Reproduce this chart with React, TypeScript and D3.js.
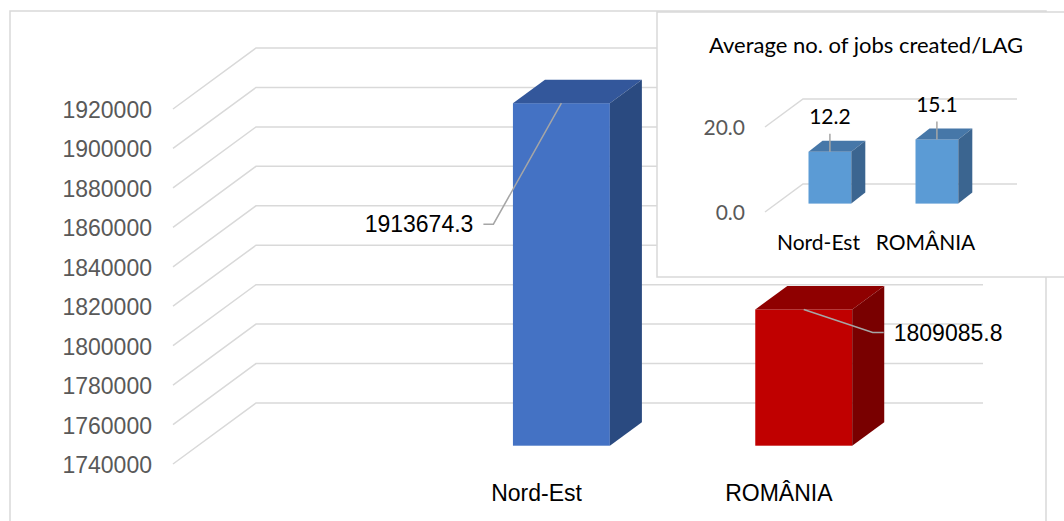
import * as d3 from "d3";

// main chart data (first category is an empty slot, as in the source workbook)
const categories = ["", "Nord-Est", "ROMÂNIA"];
const values: (number | null)[] = [null, 1913674.3, 1809085.8];
const yTicks = [1740000, 1760000, 1780000, 1800000, 1820000, 1840000, 1860000, 1880000, 1900000, 1920000];
const barColors = [null, { front: "#4472C4", top: "#33579B", side: "#2A4A80" }, { front: "#C00000", top: "#8F0000", side: "#790000" }];

// inset chart data
const insetTitle = "Average no. of jobs created/LAG";
const insetCategories = ["Nord-Est", "ROMÂNIA"];
const insetValues = [12.2, 15.1];
const insetTicks = [0, 20];

const W = 1064;
const H = 521;

type Box = { x: number; yTop: number; yBase: number; w: number; dx: number; dy: number };

function Bar3D({ b, c }: { b: Box; c: { front: string; top: string; side: string } }) {
  const { x, yTop, yBase, w, dx, dy } = b;
  return (
    <g>
      <rect x={x} y={yTop} width={w} height={yBase - yTop} fill={c.front} />
      <polygon points={`${x},${yTop} ${x + w},${yTop} ${x + w + dx},${yTop + dy} ${x + dx},${yTop + dy}`} fill={c.top} />
      <polygon points={`${x + w},${yTop} ${x + w + dx},${yTop + dy} ${x + w + dx},${yBase + dy} ${x + w},${yBase}`} fill={c.side} />
    </g>
  );
}

export default function App() {
  // ---- main chart ----
  const x = d3.scaleBand<string>().domain(categories).range([173, 900]).paddingInner(0.6).paddingOuter(0.3);
  const y = d3.scaleLinear().domain([1740000, 1920000]).range([464, 109]);
  const depth = [83, -61]; // front -> back wall
  const f0 = 0.3, f1 = 0.686; // bar sits in the middle of the depth
  const bw = x.bandwidth();

  const bars = values.map((v, i) => {
    if (v == null) return null;
    const bx = x(categories[i])! + depth[0] * f0;
    const yTop = y(v) + depth[1] * f0;
    const yBase = y(1740000) + depth[1] * f0;
    return { x: bx, yTop, yBase, w: bw, dx: depth[0] * (f1 - f0), dy: depth[1] * (f1 - f0) };
  });

  // label placement relative to the bar's top-centre (manual, as in the source)
  const labelOffsets: ([number, number] | null)[] = [null, [-88, 121], [90, 24]];

  // ---- inset chart ----
  const xi = d3.scaleBand<string>().domain(insetCategories).range([765, 979]).paddingInner(0.6).paddingOuter(0.3);
  const yi = d3.scaleLinear().domain([0, 20]).range([212, 127]);
  const di = [38, -28];
  const ibw = xi.bandwidth();
  const fmt1 = d3.format(".1f");

  return (
    <div style={{ position: "absolute", left: 0, top: 0, width: W, height: H, background: "#fff" }}>
      <svg width={W} height={H} style={{ display: "block" }}>
        <rect x={10} y={11} width={1036} height={530} fill="#fff" stroke="#D9D9D9" strokeWidth={1.5} />

        {/* gridlines: floor-side diagonal + back wall */}
        {yTicks.map((t) => (
          <polyline
            key={t}
            points={`${173},${y(t)} ${173 + depth[0]},${y(t) + depth[1]} ${900 + depth[0]},${y(t) + depth[1]}`}
            fill="none"
            stroke="#D9D9D9"
            strokeWidth={1.5}
          />
        ))}
        {yTicks.map((t) => (
          <text key={t} x={152} y={y(t) + 1} dy="0.35em" textAnchor="end" fontFamily="'Liberation Sans', Arial, sans-serif" fontSize={23} fill="#595959">
            {t}
          </text>
        ))}

        {bars.map((b, i) => (b ? <Bar3D key={i} b={b} c={barColors[i]!} /> : null))}

        {/* data labels with leader lines */}
        {bars.map((b, i) => {
          if (!b) return null;
          const ax = b.x + b.w / 2;
          const ay = b.yTop;
          const [ox, oy] = labelOffsets[i]!;
          const left = ox < 0;
          const lx = ax + ox;
          const ly = ay + oy;
          const pts = left
            ? `${lx + 10},${ly} ${lx + 20},${ly} ${ax},${ay}`
            : `${ax},${ay} ${lx - 21},${ly - 1} ${lx - 10},${ly - 1}`;
          return (
            <g key={i}>
              <polyline points={pts} fill="none" stroke="#A6A6A6" strokeWidth={1.5} />
              <text x={lx} y={ly} dy="0.35em" textAnchor={left ? "end" : "start"} fontFamily="'Liberation Sans', Arial, sans-serif" fontSize={23} fill="#000">
                {values[i]!.toFixed(1)}
              </text>
            </g>
          );
        })}

        {categories.map((c, i) =>
          c ? (
            <text key={c} x={x(c)! + bw / 2} y={501} textAnchor="middle" fontFamily="'Liberation Sans', Arial, sans-serif" fontSize={23} fill="#000">
              {c}
            </text>
          ) : null
        )}

        {/* inset chart */}
        <g>
          <rect x={657} y={12} width={420} height={265} fill="#fff" stroke="#D9D9D9" strokeWidth={1.5} />
          <text x={866} y={53} textAnchor="middle" fontFamily="Lato, 'Open Sans', sans-serif" fontSize={22} fill="#000">
            {insetTitle}
          </text>
          {insetTicks.map((t) => (
            <polyline
              key={t}
              points={`${765},${yi(t)} ${765 + di[0]},${yi(t) + di[1]} ${979 + di[0]},${yi(t) + di[1]}`}
              fill="none"
              stroke="#D9D9D9"
              strokeWidth={1.5}
            />
          ))}
          {insetTicks.map((t) => (
            <text key={t} x={745} y={yi(t) + 1} dy="0.35em" textAnchor="end" fontFamily="Lato, 'Open Sans', sans-serif" fontSize={21} fill="#595959">
              {fmt1(t)}
            </text>
          ))}
          {insetValues.map((v, i) => {
            const bx = xi(insetCategories[i])! + di[0] * 0.3;
            const yTop = yi(v) + di[1] * 0.3;
            const yBase = yi(0) + di[1] * 0.3;
            const b = { x: bx, yTop, yBase, w: ibw, dx: 14, dy: -11 };
            const cx = bx + ibw / 2;
            return (
              <g key={i}>
                <Bar3D b={b} c={{ front: "#5B9BD5", top: "#4677A8", side: "#3B6590" }} />
                <line x1={cx} x2={cx} y1={yTop - 18} y2={yTop} stroke="#A6A6A6" strokeWidth={1.5} />
                <text x={cx} y={yTop - 35} dy="0.35em" textAnchor="middle" fontFamily="Lato, 'Open Sans', sans-serif" fontSize={21} fill="#000">
                  {fmt1(v)}
                </text>
              </g>
            );
          })}
          {insetCategories.map((c) => (
            <text key={c} x={xi(c)! + ibw / 2} y={250} textAnchor="middle" fontFamily="Lato, 'Open Sans', sans-serif" fontSize={21} fill="#000">
              {c}
            </text>
          ))}
        </g>
      </svg>
    </div>
  );
}
